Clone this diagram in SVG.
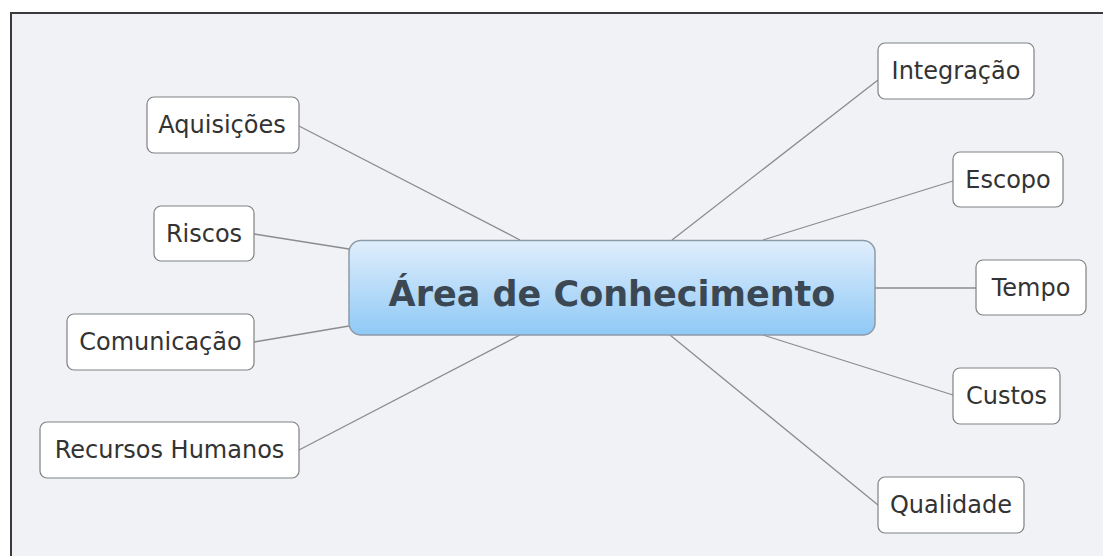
<svg xmlns="http://www.w3.org/2000/svg" width="1103" height="556" viewBox="0 0 1103 556">
<defs>
<linearGradient id="cg" x1="0" y1="0" x2="0" y2="1">
<stop offset="0" stop-color="#e0eefc"/>
<stop offset="1" stop-color="#8fc9f6"/>
</linearGradient>
<style>
.leaf rect{fill:#ffffff;stroke:#7f8183;stroke-width:1.2}
.leaf text{font-family:"DejaVu Sans",Verdana,sans-serif;font-size:24px;fill:#333333;text-anchor:middle}
.conn line{stroke:#8a8c90;stroke-width:1.3}
</style>
</defs>
<rect x="0" y="0" width="1103" height="556" fill="#ffffff"/>
<rect x="11" y="13" width="1100" height="560" fill="#f1f2f6" stroke="#3a3a3a" stroke-width="2"/>
<g id="connectors" class="conn">
<line x1="299" y1="126" x2="520" y2="240"/>
<line x1="254" y1="234" x2="349" y2="249"/>
<line x1="254" y1="342" x2="349" y2="326"/>
<line x1="299" y1="450" x2="520" y2="335"/>
<line x1="672" y1="240" x2="878" y2="80"/>
<line x1="763" y1="240" x2="953" y2="181"/>
<line x1="875" y1="288" x2="976" y2="288"/>
<line x1="763" y1="335" x2="953" y2="395"/>
<line x1="670" y1="335" x2="878" y2="505"/>
</g>
<g id="central">
<rect x="349" y="240.5" width="526" height="94.5" rx="12" fill="url(#cg)" stroke="#8d9aa8" stroke-width="1.5"/>
<text x="612" y="306" font-family="'DejaVu Sans',Verdana,sans-serif" font-size="35" font-weight="bold" fill="#3b4853" text-anchor="middle">Área de Conhecimento</text>
</g>
<g id="aquisicoes" class="leaf"><rect x="147" y="97" width="152" height="56" rx="7"/><text x="222" y="133">Aquisições</text></g>
<g id="riscos" class="leaf"><rect x="154" y="206" width="100" height="55" rx="7"/><text x="204" y="242">Riscos</text></g>
<g id="comunicacao" class="leaf"><rect x="67" y="314" width="187" height="56" rx="7"/><text x="160.5" y="350">Comunicação</text></g>
<g id="recursos-humanos" class="leaf"><rect x="40" y="422" width="259" height="56" rx="7"/><text x="169.5" y="458">Recursos Humanos</text></g>
<g id="integracao" class="leaf"><rect x="878" y="43" width="156" height="56" rx="7"/><text x="956" y="79">Integração</text></g>
<g id="escopo" class="leaf"><rect x="953" y="152" width="110" height="55" rx="7"/><text x="1008" y="188">Escopo</text></g>
<g id="tempo" class="leaf"><rect x="976" y="260" width="110" height="55" rx="7"/><text x="1031" y="296">Tempo</text></g>
<g id="custos" class="leaf"><rect x="953" y="368" width="107" height="56" rx="7"/><text x="1006.5" y="404">Custos</text></g>
<g id="qualidade" class="leaf"><rect x="878" y="477" width="146" height="56" rx="7"/><text x="951" y="513">Qualidade</text></g>
</svg>
